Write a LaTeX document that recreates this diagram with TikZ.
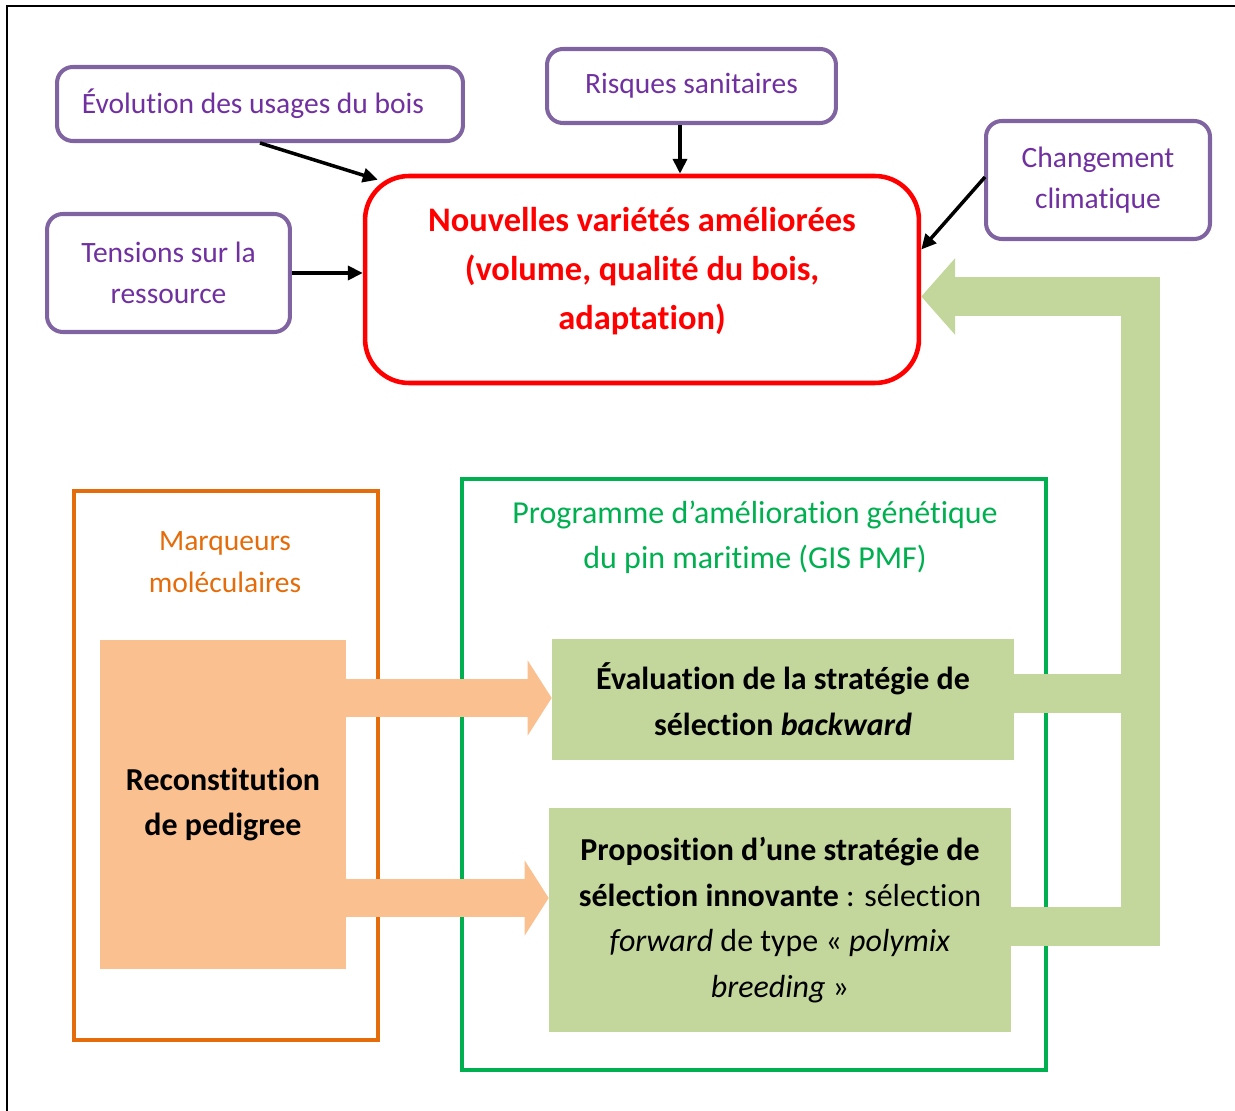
\documentclass[tikz,border=0pt]{standalone}
\usepackage{fontspec}
\setmainfont{Carlito}[Ligatures = CommonOff, Contextuals = AlternateOff]
\usetikzlibrary{calc, arrows.meta}

\definecolor{violetTrait}{HTML}{8064A2}
\definecolor{violetTexte}{HTML}{7030A0}
\definecolor{orangeTrait}{HTML}{E46C0A}
\definecolor{vertTrait}{HTML}{00B050}
\definecolor{peche}{HTML}{FAC090}
\definecolor{vertClair}{HTML}{C3D69B}

\begin{document}
\begin{tikzpicture}[
			x = 0.02cm, y = -0.02cm,
			every node/.style = {align = center, inner sep = 0pt},
			contexte/.style = {draw = violetTrait, line width = 2.3pt, rounded corners = 9pt,
				text = violetTexte, font = \fontsize{16.8}{23.3}\selectfont},
			influence/.style = {-{Triangle[length = 8.5pt, width = 8pt]}, line width = 2pt},
			cadre/.style = {draw, line width = 2.3pt, minimum width = #1},
			bloc/.style = {fill = vertClair, minimum width = 9.24cm,
				font = \fontsize{18.2}{26}\selectfont},
			fleche peche/.style = {draw = peche, line width = 0.76cm,
				-{Triangle[length = 0.48cm, width = 1.48cm]}},
			retour/.style = {draw = vertClair, line width = 0.78cm, miter limit = 4}]
		\useasboundingbox (0,0) rectangle (1235,1111);
		% outer frame
		\draw[line width = 1.2pt] (7,1111) -- (7,6) -- (1235,6);

		% context
		\node[contexte, minimum width = 8.12cm, minimum height = 1.48cm] (evol) at (260,104) {Évolution des usages du bois\hspace{8pt}};
		\node[contexte, minimum width = 5.78cm, minimum height = 1.48cm] (risq) at (691.5,86) {Risques sanitaires};
		\node[contexte, minimum width = 4.48cm, minimum height = 2.36cm] (clim) at (1098,180) {Changement\\climatique};
		\node[contexte, minimum width = 4.86cm, minimum height = 2.36cm] (tens) at (168.5,273) {Tensions sur la\\ressource};

		% goal
		\node[draw = red, line width = 2.6pt, rounded corners = 25pt,
			minimum width = 11.08cm, minimum height = 4.14cm] (nouv) at (642,279.5) {};
		\node[text = red, font = \fontsize{19.6}{27.8}\selectfont\bfseries] (nouvTxt) at (642,271)
			{Nouvelles variétés améliorées\\(volume, qualité du bois,\\adaptation)};

		\coordinate (risqPied) at ($(risq.south)+(-11.5,0)$);
		\coordinate (climBord) at ($(clim.west)+(1,-3)$);
		\draw[influence] (evol.south) -- ($(nouv.north west)+(15,6)$);
		\draw[influence] (risqPied) -- (risqPied |- nouv.north);
		\draw[influence] (climBord) -- ($(nouv.east)+(0,-30)$);
		\draw[influence] (tens.east) -- (tens.east -| nouv.west);

		% markers
		\node[cadre = 6.08cm, draw = orangeTrait, minimum height = 10.98cm] (marq) at (226,765.5) {};
		\node[text = orangeTrait, font = \fontsize{16.8}{23.8}\selectfont] (marqTxt) at (225,562) {Marqueurs\\moléculaires};
		\node[fill = peche, minimum width = 4.92cm, minimum height = 6.58cm,
			font = \fontsize{18.2}{26}\selectfont\bfseries] (pedi) at (223,804.5) {Reconstitution\\de pedigree};

		% breeding programme
		\node[cadre = 11.68cm, draw = vertTrait, line width = 2.6pt, minimum height = 11.82cm] (prog) at (754,774.5) {};
		\node[text = vertTrait, font = \fontsize{18.2}{25.5}\selectfont] (progTxt) at (755,537)
			{Programme d’amélioration génétique\\du pin maritime (GIS PMF)};
		\node[bloc, minimum height = 2.42cm] (back) at (783,699.5)
			{\textbf{Évaluation de la stratégie de}\\\textbf{sélection \textit{backward}}};
		\node[bloc, minimum height = 4.48cm] (forw) at (780,920)
			{\textbf{Proposition d’une stratégie de}\\\textbf{sélection innovante} : sélection\\
			\textit{forward} de type « \textit{polymix}\\\textit{breeding} »};

		% links
		\draw[fleche peche] (pedi.east |- 0,698) -- (back.west |- 0,698);
		\draw[fleche peche] (pedi.east |- 0,898) -- (forw.west |- 0,898);

		\draw[retour] (forw.east |- 0,926.5) -- (1140,926.5) -- (1140,693.5);
		\draw[retour, -{Triangle[length = 0.68cm, width = 1.5cm]}]
			(back.east |- 0,693.5) -- (1140,693.5) -- (1140,296.5) -- (nouv.east |- 0,296.5);
\end{tikzpicture}
\end{document}
